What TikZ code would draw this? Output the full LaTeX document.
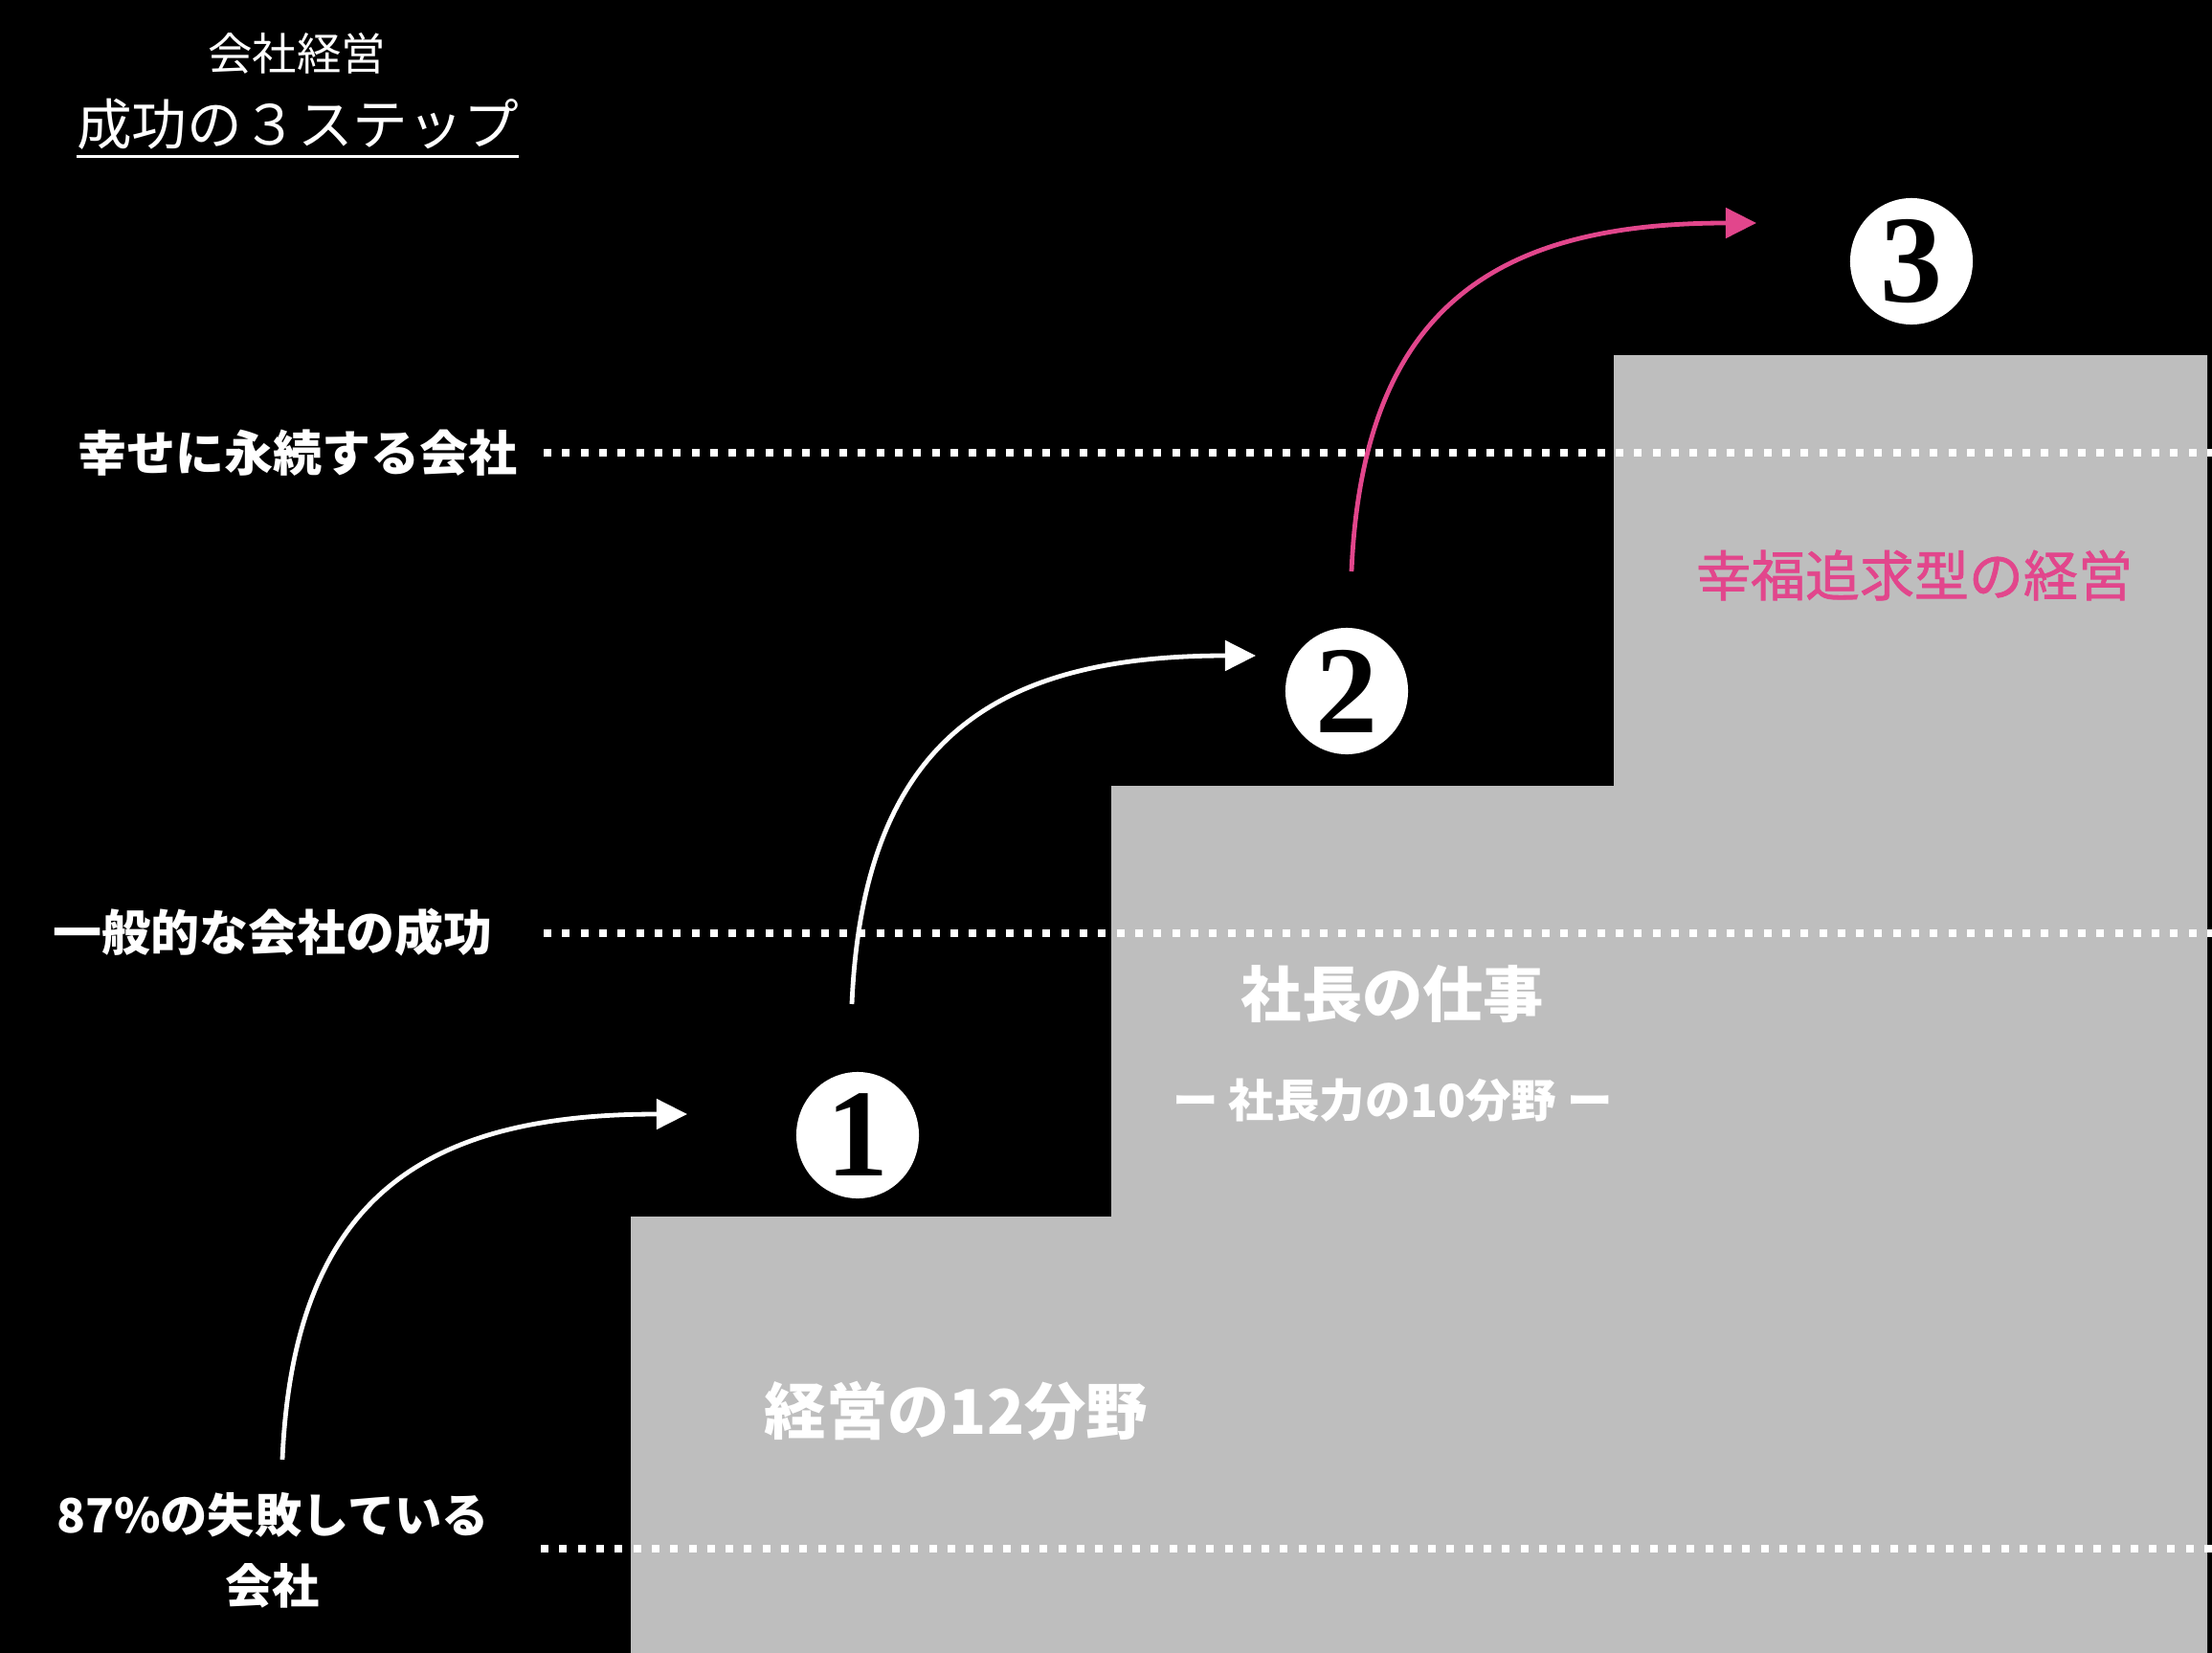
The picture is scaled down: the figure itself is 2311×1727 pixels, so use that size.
\documentclass[tikz,border=0pt]{standalone}
\usepackage{fontspec}
\newfontfamily\jp{Noto Sans CJK JP}
\newfontfamily\jpmed[FakeBold=1.3]{Noto Sans CJK JP}
\newfontfamily\numfont{Liberation Serif}
\usetikzlibrary{arrows.meta,shapes.geometric}
\definecolor{stepgray}{RGB}{190,190,190}
\definecolor{hpink}{RGB}{226,70,140}
\begin{document}
\begin{tikzpicture}[x=0.01cm,y=-0.01cm,
  lbl/.style={text=white,font=\jp\bfseries\fontsize{14.5pt}{17pt}\selectfont,inner sep=0pt,align=center},
  guide/.style={white,line width=0.08cm,dash pattern=on 0.08cm off 0.113cm},
  curvearrow/.style={line width=0.048cm,-{Triangle[length=0.32cm,width=0.31cm]}},
  stepnum/.style={ellipse,fill=white,minimum width=1.28cm,minimum height=1.32cm,inner sep=0pt,text=black,font=\numfont\bfseries\fontsize{37pt}{37pt}\selectfont},
  steptext/.style={text=white,font=\jp\bfseries\fontsize{18pt}{21pt}\selectfont,inner sep=0pt}]
\fill[black] (0,0) rectangle (2311,1727);
\useasboundingbox (0,0) rectangle (2311,1727);
% staircase
\fill[stepgray] (659,1727) -- (659,1271) -- (1161,1271) -- (1161,821) -- (1686,821) -- (1686,371) -- (2306,371) -- (2306,1727) -- cycle;
% guide lines
\coordinate (g1s) at (568,473); \coordinate (g1e) at (2311,473);
\coordinate (g2s) at (568,975); \coordinate (g2e) at (2311,975);
\coordinate (g3s) at (565,1618); \coordinate (g3e) at (2311,1618);
\draw[guide] (g1s) -- (g1e);
\draw[guide] (g2s) -- (g2e);
\draw[guide] (g3s) -- (g3e);
% titles
\node[text=white,font=\jp\fontsize{13.2pt}{16pt}\selectfont,inner sep=0pt] (t1) at (310,56) {会社経営};
\node[text=white,font=\jp\fontsize{16.4pt}{19pt}\selectfont,inner sep=0pt] (t2) at (311,130) {成功の３ステップ};
\draw[white,line width=0.03cm] ([yshift=-0.06cm]t2.south west) -- ([yshift=-0.06cm]t2.south east);
% left labels
\node[lbl] (l1) at (311,473) {幸せに永続する会社};
\node[lbl] (l2) at (285,974) {一般的な会社の成功};
\node[lbl,font=\jp\bfseries\fontsize{14pt}{19pt}\selectfont] (l3) at (285,1620) {87\%の失敗している\\[2pt]会社};
% step texts
\node[steptext,font=\jp\bfseries\fontsize{18.3pt}{21pt}\selectfont] (s1) at (999,1474) {経営の12分野};
\node[steptext] (s2) at (1455,1039) {社長の仕事};
\node[steptext,font=\jp\bfseries\fontsize{13.5pt}{16pt}\selectfont] (s2b) at (1455,1150) {ー 社長力の10分野 ー};
\node[steptext,text=hpink,font=\jpmed\fontsize{16.2pt}{19pt}\selectfont] (s3) at (2000,601) {幸福追求型の経営};
% step numbers
\node[stepnum] (n1) at (896,1186) {1};
\node[stepnum] (n2) at (1407,722) {2};
\node[stepnum] (n3) at (1997,273) {3};
% arrows
\coordinate (a1s) at (295,1525); \coordinate (a1e) at (718,1164);
\coordinate (a2s) at (890,1049); \coordinate (a2e) at (1312,685);
\coordinate (a3s) at (1412,597); \coordinate (a3e) at (1835,233);
\draw[curvearrow,white] (a1s) .. controls ([shift={(12,-280)}]a1s) and ([shift={(-268,0)}]a1e) .. (a1e);
\draw[curvearrow,white] (a2s) .. controls ([shift={(12,-280)}]a2s) and ([shift={(-268,0)}]a2e) .. (a2e);
\draw[curvearrow,hpink] (a3s) .. controls ([shift={(12,-280)}]a3s) and ([shift={(-268,0)}]a3e) .. (a3e);
\end{tikzpicture}
\end{document}
